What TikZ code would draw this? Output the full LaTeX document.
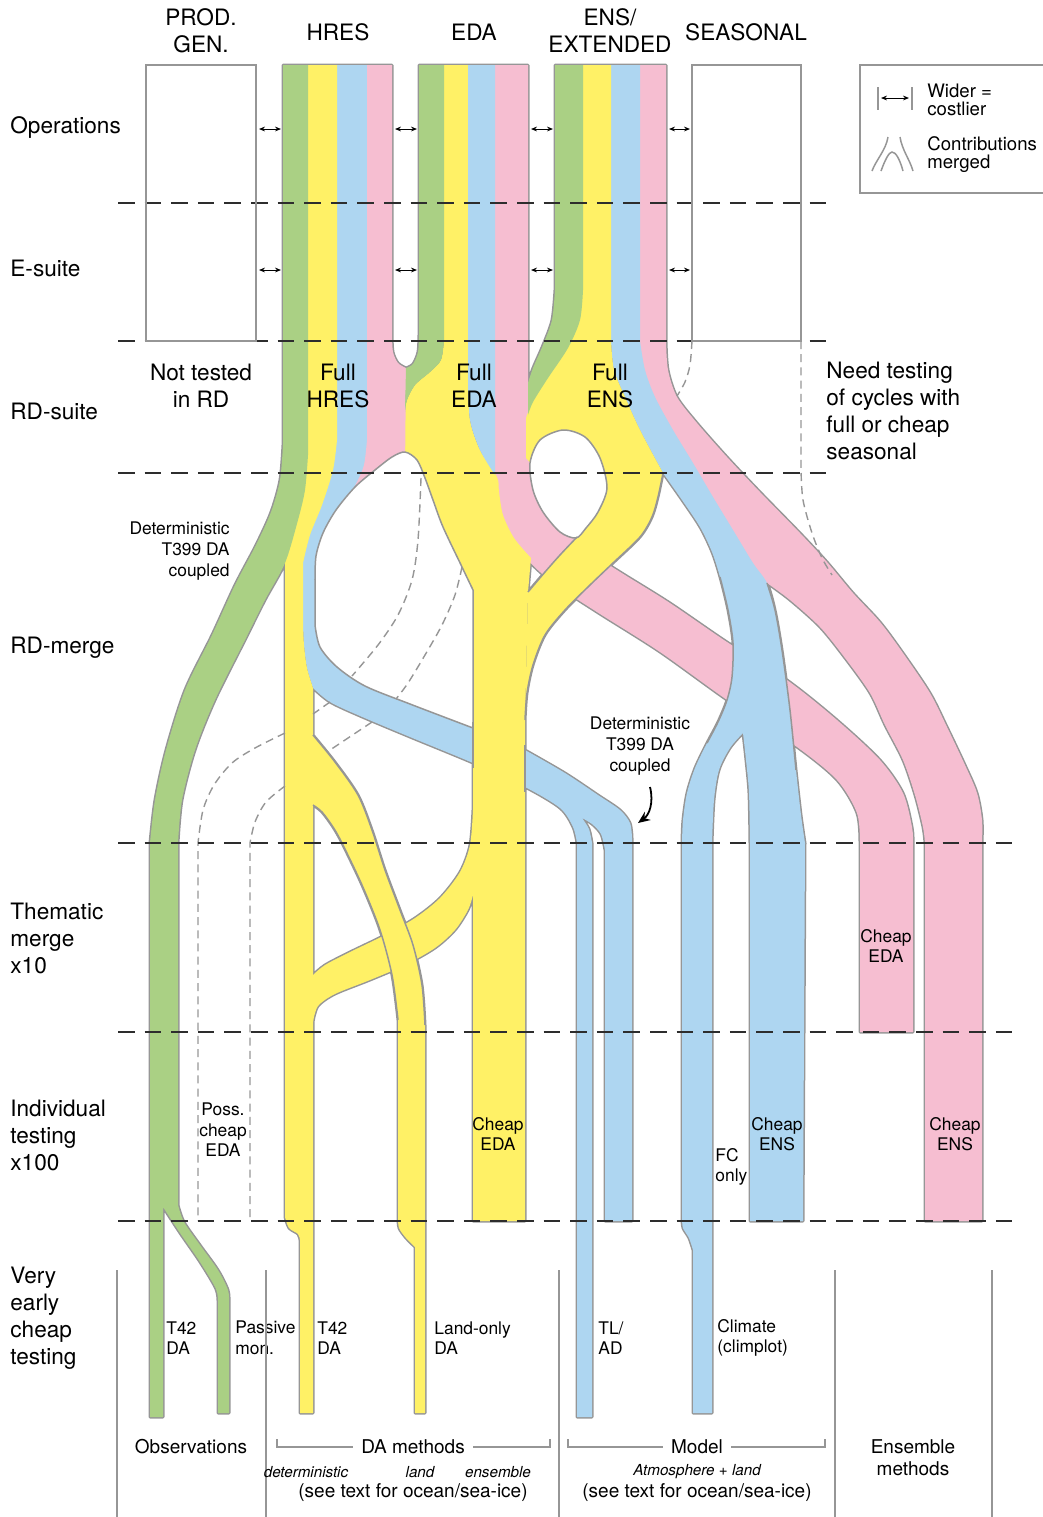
\documentclass[tikz,border=0pt]{standalone}
\usepackage{fontspec}
\setmainfont{TeX Gyre Heros}
\usetikzlibrary{arrows.meta}

\definecolor{flowG}{RGB}{170,208,132}
\definecolor{flowY}{RGB}{255,241,102}
\definecolor{flowB}{RGB}{174,214,241}
\definecolor{flowP}{RGB}{246,190,209}
\definecolor{lineC}{RGB}{150,150,150}
\definecolor{dashC}{RGB}{45,45,45}

% flow outlines, in pixels with y going down
\newcommand\hbpath{(337,65) -- (367,65) -- (367,440) -- (392,478) -- (350,560) -- (330,620) -- (470,700) -- (500,735) -- (525,750)
  -- plot[smooth] coordinates {(525,750) (565,773) (598,795) (620,810) (630,823) (632,838)}
  -- (632,1221) -- (605,1221) -- (605,850)
  -- plot[smooth] coordinates {(605,850) (601,834) (592,824) (582,818)}
  -- plot[smooth] coordinates {(582,818) (589,829) (592,843)}
  -- (592,1417) -- (577,1417) -- (577,843)
  -- plot[smooth] coordinates {(577,843) (573,827) (560,808) (525,787) (473,763) (410,737) (360,716) (330,702) (313,688)}
  -- plot[smooth] coordinates {(313,688) (307,668) (304,645) (303,625)}
  -- (300,625) -- (300,560) -- (320,500) -- (337,440) -- cycle}
\newcommand\eppath{(495,65) -- (528,65) -- (528,455) -- (600,500) -- (590,553)
  -- plot[smooth] coordinates {(590,553) (625,575) (670,603) (727,642) (787,680) (837,720) (880,760) (903,793) (912,827) (913,843)}
  -- (913,1032) -- (860,1032) -- (860,843)
  -- plot[smooth] coordinates {(860,843) (857,813) (837,780) (797,747) (727,700) (660,652) (600,614) (560,588) (540,572) (528,560) (512,540) (500,515) (496,490) (495,475)}
  -- cycle}
\newcommand\sppath{(635,65) -- (666,65) -- (666,341)
  -- plot[smooth] coordinates {(666,341) (668,370) (677,397) (697,423) (727,457) (760,492) (800,533) (827,562) (853,593) (880,622) (903,653) (930,693) (947,727) (965,765) (977,793) (982,820) (982,843)}
  -- (982,1221) -- (925,1221) -- (925,843)
  -- plot[smooth] coordinates {(925,843) (923,827) (915,795) (903,760) (885,725) (870,693) (845,658) (820,627) (790,600) (767,583)}
  -- (720,530) -- (680,463) -- (640,370) -- (635,341) -- cycle}
\newcommand\sbpath{(611,65) -- (640,65) -- (640,341)
  -- plot[smooth] coordinates {(640,341) (645,370) (655,397) (673,430) (693,463) (713,497) (733,530) (753,563) (767,583) (775,610) (782,650) (790,710) (796,770) (801,815) (805,843)}
  -- (803,1221) -- (750,1221) -- (750,843)
  -- plot[smooth] coordinates {(750,843) (749,793) (746,760) (743,733)}
  -- plot[smooth] coordinates {(743,733) (730,748) (719,770) (714,800) (712,843)}
  -- (712,1413) -- (693,1413) -- (693,1250)
  -- plot[smooth] coordinates {(693,1250) (689,1238) (683,1228) (682,1218)}
  -- (682,843)
  -- plot[smooth] coordinates {(682,843) (683,820) (687,793) (695,768) (707,743) (718,722) (727,700) (732,677) (733,643) (728,610) (720,577) (712,552) (700,527) (682,500) (663,473)}
  -- plot[smooth] coordinates {(663,473) (640,430) (625,397) (614,370) (611,341)}
  -- cycle}
\newcommand\sypath{(583,65) -- (611,65) -- (611,341)
  -- plot[smooth] coordinates {(611,341) (614,370) (625,397) (640,430) (663,473)}
  -- plot[smooth] coordinates {(663,473) (658,497) (652,517) (640,537) (613,563) (590,585) (565,610) (545,635) (533,665) (527,693) (525,720)}
  -- (528,592)
  -- plot[smooth] coordinates {(528,592) (545,572) (560,555) (577,537)}
  -- (545,480) -- (526,458) -- (526,418) -- (533,398) -- (580,300) -- cycle}
\newcommand\eypath{(444,65) -- (468,65) -- (468,380)
  -- plot[smooth] coordinates {(468,380) (470,420) (480,450) (497,477) (499,492) (503,515) (514,538) (531,558)}
  -- (528,592) -- (525,720) -- (525,1221) -- (473,1221) -- (473,590)
  -- (425,520) -- (400,470) -- (405,450) -- (405,412)
  -- plot[smooth] coordinates {(405,412) (407,400) (415,385) (430,372) (441,360) (444,340)}
  -- cycle}
\newcommand\hypath{(300,65) -- (337,65) -- (337,440)
  -- plot[smooth] coordinates {(337,440) (333,470) (322,505) (310,535) (303,563)}
  -- (303,625)
  -- plot[smooth] coordinates {(303,625) (304,645) (307,668) (313,688)}
  -- (313,1413) -- (300,1413) -- (300,1240)
  -- plot[smooth] coordinates {(300,1240) (298,1234) (289,1228) (285,1217)}
  -- (285,563) -- (300,460) -- cycle}
\newcommand\hlpath{(305,735) -- (313,735)
  -- plot[smooth] coordinates {(313,735) (335,762) (358,795) (372,830) (385,870) (400,910) (413,945) (422,985) (425,1025)}
  -- (425,1413) -- (415,1413) -- (415,1247)
  -- plot[smooth] coordinates {(415,1247) (406,1238) (399,1228) (398,1217)}
  -- (398,1020)
  -- plot[smooth] coordinates {(398,1020) (392,975) (380,930) (362,885) (342,843) (333,827) (322,812) (313,805)}
  -- (305,805) -- cycle}
\newcommand\hxpath{(480,810) -- (473,810)
  -- plot[smooth] coordinates {(473,810) (470,845) (460,872) (440,898) (415,918) (385,935) (350,952) (325,965) (313,975)}
  -- (305,975) -- (305,1022) -- (313,1022)
  -- plot[smooth] coordinates {(313,1022) (318,1006) (335,994) (370,980) (405,965) (435,948) (455,930) (468,910) (473,895)}
  -- (480,895) -- cycle}
\newcommand\hppath{(367,65) -- (392,65) -- (392,335)
  -- plot[smooth] coordinates {(392,335) (393,352) (398,363) (406,368)}
  -- (405,472) -- (350,494)
  -- plot[smooth] coordinates {(350,494) (357,482) (364,465) (367,440)}
  -- cycle}
\newcommand\ebpath{(468,65) -- (495,65) -- (495,475)
  -- plot[smooth] coordinates {(495,475) (480,450) (470,420) (468,380)}
  -- cycle}
\newcommand\egpath{(419,65) -- (444,65) -- (444,340)
  -- plot[smooth] coordinates {(444,340) (441,360) (430,372) (415,385) (407,400) (405,412)}
  -- (406,368)
  -- plot[smooth] coordinates {(406,368) (413,364) (418,352) (419,335)}
  -- cycle}
\newcommand\sgpath{(555,65) -- (583,65) -- (583,290)
  -- plot[smooth] coordinates {(583,290) (580,320) (568,348) (548,378) (533,402) (528,415)}
  -- (528,383)
  -- plot[smooth] coordinates {(528,383) (533,368) (543,345) (552,320) (555,290)}
  -- cycle}
\newcommand\hgpath{(283,65) -- (308,65) -- (308,455)
  -- plot[smooth] coordinates {(308,455) (305,490) (298,520) (285,563) (265,600) (245,640) (215,700) (195,750) (182,800) (178,843)}
  -- (178,1205)
  -- plot[smooth] coordinates {(178,1205) (184,1222) (200,1245) (218,1270) (228,1290) (229,1303)}
  -- (229,1413) -- (218,1413) -- (218,1303)
  -- plot[smooth] coordinates {(218,1303) (216,1289) (200,1262) (180,1233) (163,1207)}
  -- (163,1417) -- (150,1417) -- (150,843)
  -- plot[smooth] coordinates {(150,843) (155,800) (166,750) (185,690) (212,635) (235,585) (256,545) (271,512) (280,480) (283,445)}
  -- cycle}
% white gaps inside the flows
\newcommand\archpath{plot[smooth] coordinates {(315,580) (316,556) (323,533) (336,510) (355,487) (375,470) (392,457) (405,452) (417,460) (425,478) (433,500) (443,527) (462,567) (473,590)}
  -- (473,728)
  -- plot[smooth] coordinates {(473,728) (410,704) (365,686) (337,667) (320,647) (315,625)}
  -- cycle}
\newcommand\ovalpath{plot[smooth cycle] coordinates {(530,463) (540,440) (563,430) (585,437) (600,458) (607,488) (598,512) (586,528) (576,538) (560,532) (543,512) (533,490)}}

\begin{document}
\begin{tikzpicture}[
  x=0.5pt, y=-0.5pt,
  font=\fontsize{11.3}{13.5}\selectfont,
  lab/.style={inner sep=0pt, align=center},
  rowlab/.style={inner sep=0pt, anchor=west, align=left},
  note/.style={inner sep=0pt, align=center, font=\fontsize{8.7}{10.3}\selectfont},
  legtext/.style={inner sep=0pt, anchor=west, align=left, font=\fontsize{9.3}{9}\selectfont},
  foot/.style={inner sep=0pt, align=center, font=\fontsize{9.5}{11}\selectfont},
  hint/.style={inner sep=0pt, font=\fontsize{7.6}{9}\selectfont\itshape},
  rim/.style={draw=lineC, line width=0.75pt},
  halo/.style={draw=lineC, line width=1.5pt, line join=round},
  gap/.style={fill=white, draw=lineC, line width=0.75pt},
  rowline/.style={draw=dashC, line width=1.3pt, dash pattern=on 8.3pt off 5pt},
  trail/.style={draw=lineC, line width=0.7pt, dash pattern=on 4pt off 2.6pt},
  cost/.style={<->, >={Stealth[length=3pt,width=2.4pt]}, line width=0.5pt}]
\useasboundingbox (0,0) rectangle (1043,1517);

% flows: grey halo under everything, then the colours
\draw[halo] \hbpath \eppath \sppath \sbpath \sypath \eypath \hypath \hlpath \hxpath \hppath \ebpath \egpath \sgpath \hgpath;
\fill[flowB] \hbpath;
\fill[flowP] \eppath;
\fill[flowP] \sppath;
\fill[flowB] \sbpath;
\fill[flowY] \sypath;
\fill[flowY] \eypath;
\fill[flowY] (473,700) rectangle (525,800); % EDA trunk over the HRES blue
\fill[flowY] \hypath;
\fill[flowY] \hlpath;
\fill[flowY] \hxpath;
\fill[flowP] \hppath;
\fill[flowB] \ebpath;
\fill[flowG] \egpath;
\fill[flowG] \sgpath;
\fill[flowG] \hgpath;

% gaps
\path[gap] \archpath;
\path[gap] \ovalpath;

% edges where one flow passes over another
\draw[rim] (473,722) -- (473,768);
\draw[rim] (525,745) -- (525,792);
\draw[rim] plot[smooth] coordinates {(528,592) (545,572) (560,555) (577,537)};
\draw[rim] plot[smooth] coordinates {(663,473) (658,497) (652,517) (640,537) (613,563) (590,585) (565,610) (545,635) (533,665) (527,693) (525,720)};
\draw[rim] plot[smooth] coordinates {(707,743) (718,722) (727,700) (732,677) (733,643) (728,610) (720,577)};
\draw[rim] plot[smooth] coordinates {(767,583) (775,610) (782,650) (790,710) (796,770)};
\draw[rim] plot[smooth] coordinates {(313,735) (335,762) (358,795) (372,830) (385,870) (400,910) (413,945) (422,985) (425,1025)};
\draw[rim] plot[smooth] coordinates {(398,1020) (392,975) (380,930) (362,885) (342,843) (333,827) (322,812) (313,805)};

% merged contributions (dashed)
\draw[trail] plot[smooth] coordinates {(421,478) (418,540) (412,580) (398,615) (378,645) (352,676)};
\draw[trail] (330,702) -- (313,714);
\draw[trail] plot[smooth] coordinates {(285,733) (255,748) (232,763) (214,785) (203,810) (198,843)} -- (198,1221);
\draw[trail] plot[smooth] coordinates {(462,567) (455,595) (442,625) (425,655) (408,683) (396,699)};
\draw[trail] (372,722) -- (327,752);
\draw[trail] plot[smooth] coordinates {(285,786) (266,802) (255,822) (250,843)} -- (250,1221);
\draw[trail] (801,341) -- (801,470) -- plot[smooth] coordinates {(801,470) (803,500) (812,533) (822,558) (832,575)};
\draw[trail] plot[smooth] coordinates {(692,341) (690,365) (685,382) (677,396)};

% stage separators
\foreach \yy in {203,341,473}
  \draw[rowline] (118,\yy) -- (830,\yy);
\foreach \yy in {843,1032,1221}
  \draw[rowline] (118,\yy) -- (1012,\yy);

% empty columns and cost arrows
\draw[rim] (146,65) rectangle (256,341);
\draw[rim] (692,65) rectangle (801,341);
\foreach \xa/\xb in {259/281, 395/417, 531/553, 669/690}
  \foreach \yy in {129,270}
    \draw[cost] (\xa,\yy) -- (\xb,\yy);

% legend
\draw[rim] (860,65) rectangle (1046,193);
\draw[rim] (878,87) -- (878,110);
\draw[rim] (912,87) -- (912,110);
\draw[cost] (881,98) -- (909,98);
\node[legtext] (legWide) at (927,100) {Wider =\\costlier};
\draw[rim] (888,137) .. controls (886,150) and (876,160) .. (872,171);
\draw[rim] (900,137) .. controls (902,150) and (910,160) .. (913,171);
\draw[rim] (881,171) .. controls (885,160) and (889,152) .. (892,152) .. controls (896,152) and (900,160) .. (903,171);
\node[legtext] (legMerge) at (927,155) {Contributions\\merged};

% column headers
\node[lab] (hProd) at (201,31) {PROD.\\GEN.};
\node[lab] (hHres) at (338,32) {HRES};
\node[lab] (hEda)  at (474,32) {EDA};
\node[lab] (hEns)  at (610,31) {ENS/\\EXTENDED};
\node[lab] (hSeas) at (746,32) {SEASONAL};

% row labels
\node[rowlab] (rOps)   at (10,128)  {Operations};
\node[rowlab] (rEs)    at (10,268)  {E-suite};
\node[rowlab] (rRd)    at (10,411)  {RD-suite};
\node[rowlab] (rMerge) at (10,648)  {RD-merge};
\node[rowlab] (rThem)  at (10,938)  {Thematic\\merge\\x10};
\node[rowlab] (rInd)   at (10,1135) {Individual\\testing\\x100};
\node[rowlab] (rEarly) at (10,1318) {Very\\early\\cheap\\testing};

% RD-suite texts
\node[lab] (notRd) at (201,386) {Not tested\\in RD};
\node[lab] (fHres) at (338,386) {Full\\HRES};
\node[lab] (fEda)  at (474,386) {Full\\EDA};
\node[lab] (fEns)  at (610,386) {Full\\ENS};
\node[rowlab] (needSeas) at (826,411) {Need testing\\of cycles with\\full or cheap\\seasonal};

% notes on the flows
\node[note, anchor=east, align=right] (detL) at (230,551) {Deterministic\\T399 DA\\coupled};
\node[note] (detR) at (640,746) {Deterministic\\T399 DA\\coupled};
\coordinate (bendS) at (650,787);
\coordinate (bendE) at (638,823);
\draw[line width=0.9pt, -{Stealth[length=6pt,width=5pt]}] (bendS) .. controls (654,803) and (649,815) .. (bendE);
\node[note] (chEdaP)  at (886,946)  {Cheap\\EDA};
\node[note] (possEda) at (223,1130) {Poss.\\cheap\\EDA};
\node[note] (chEdaY)  at (498,1134) {Cheap\\EDA};
\node[note] (chEnsB)  at (777,1134) {Cheap\\ENS};
\node[note] (chEnsP)  at (955,1134) {Cheap\\ENS};
\node[note, anchor=west, align=left] (fcOnly) at (715,1167) {FC\\only};
\node[note, anchor=west, align=left] (tObs)  at (166,1338) {T42\\DA};
\node[note, anchor=west, align=left] (tPass) at (235,1338) {Passive\\mon.};
\node[note, anchor=west, align=left] (tDa)   at (317,1338) {T42\\DA};
\node[note, anchor=west, align=left] (tLand) at (434,1338) {Land-only\\DA};
\node[note, anchor=west, align=left] (tTl)   at (598,1338) {TL/\\AD};
\node[note, anchor=west, align=left] (tClim) at (717,1338) {Climate\\(climplot)};

% categories at the bottom
\foreach \xx in {117,266,559,835,992}
  \draw[rim] (\xx,1270) -- (\xx,1517);
\node[foot] (obs)  at (191,1447) {Observations};
\node[foot] (daM)  at (413,1447) {DA methods};
\draw[rim] (277,1439) |- ([xshift=-4pt]daM.west);
\draw[rim] ([xshift=4pt]daM.east) -| (550,1439);
\node[hint] (iDet)  at (306,1472) {deterministic};
\node[hint] (iLand) at (420,1472) {land};
\node[hint] (iEns)  at (498,1472) {ensemble};
\node[foot] (seeA)  at (413,1493) {(see text for ocean/sea-ice)};
\node[foot] (modM)  at (697,1447) {Model};
\draw[rim] (568,1439) |- ([xshift=-4pt]modM.west);
\draw[rim] ([xshift=4pt]modM.east) -| (825,1439);
\node[hint] (iAtm)  at (697,1472) {Atmosphere + land};
\node[foot] (seeB)  at (697,1493) {(see text for ocean/sea-ice)};
\node[foot] (ensM)  at (913,1458) {Ensemble\\methods};
\end{tikzpicture}
\end{document}
